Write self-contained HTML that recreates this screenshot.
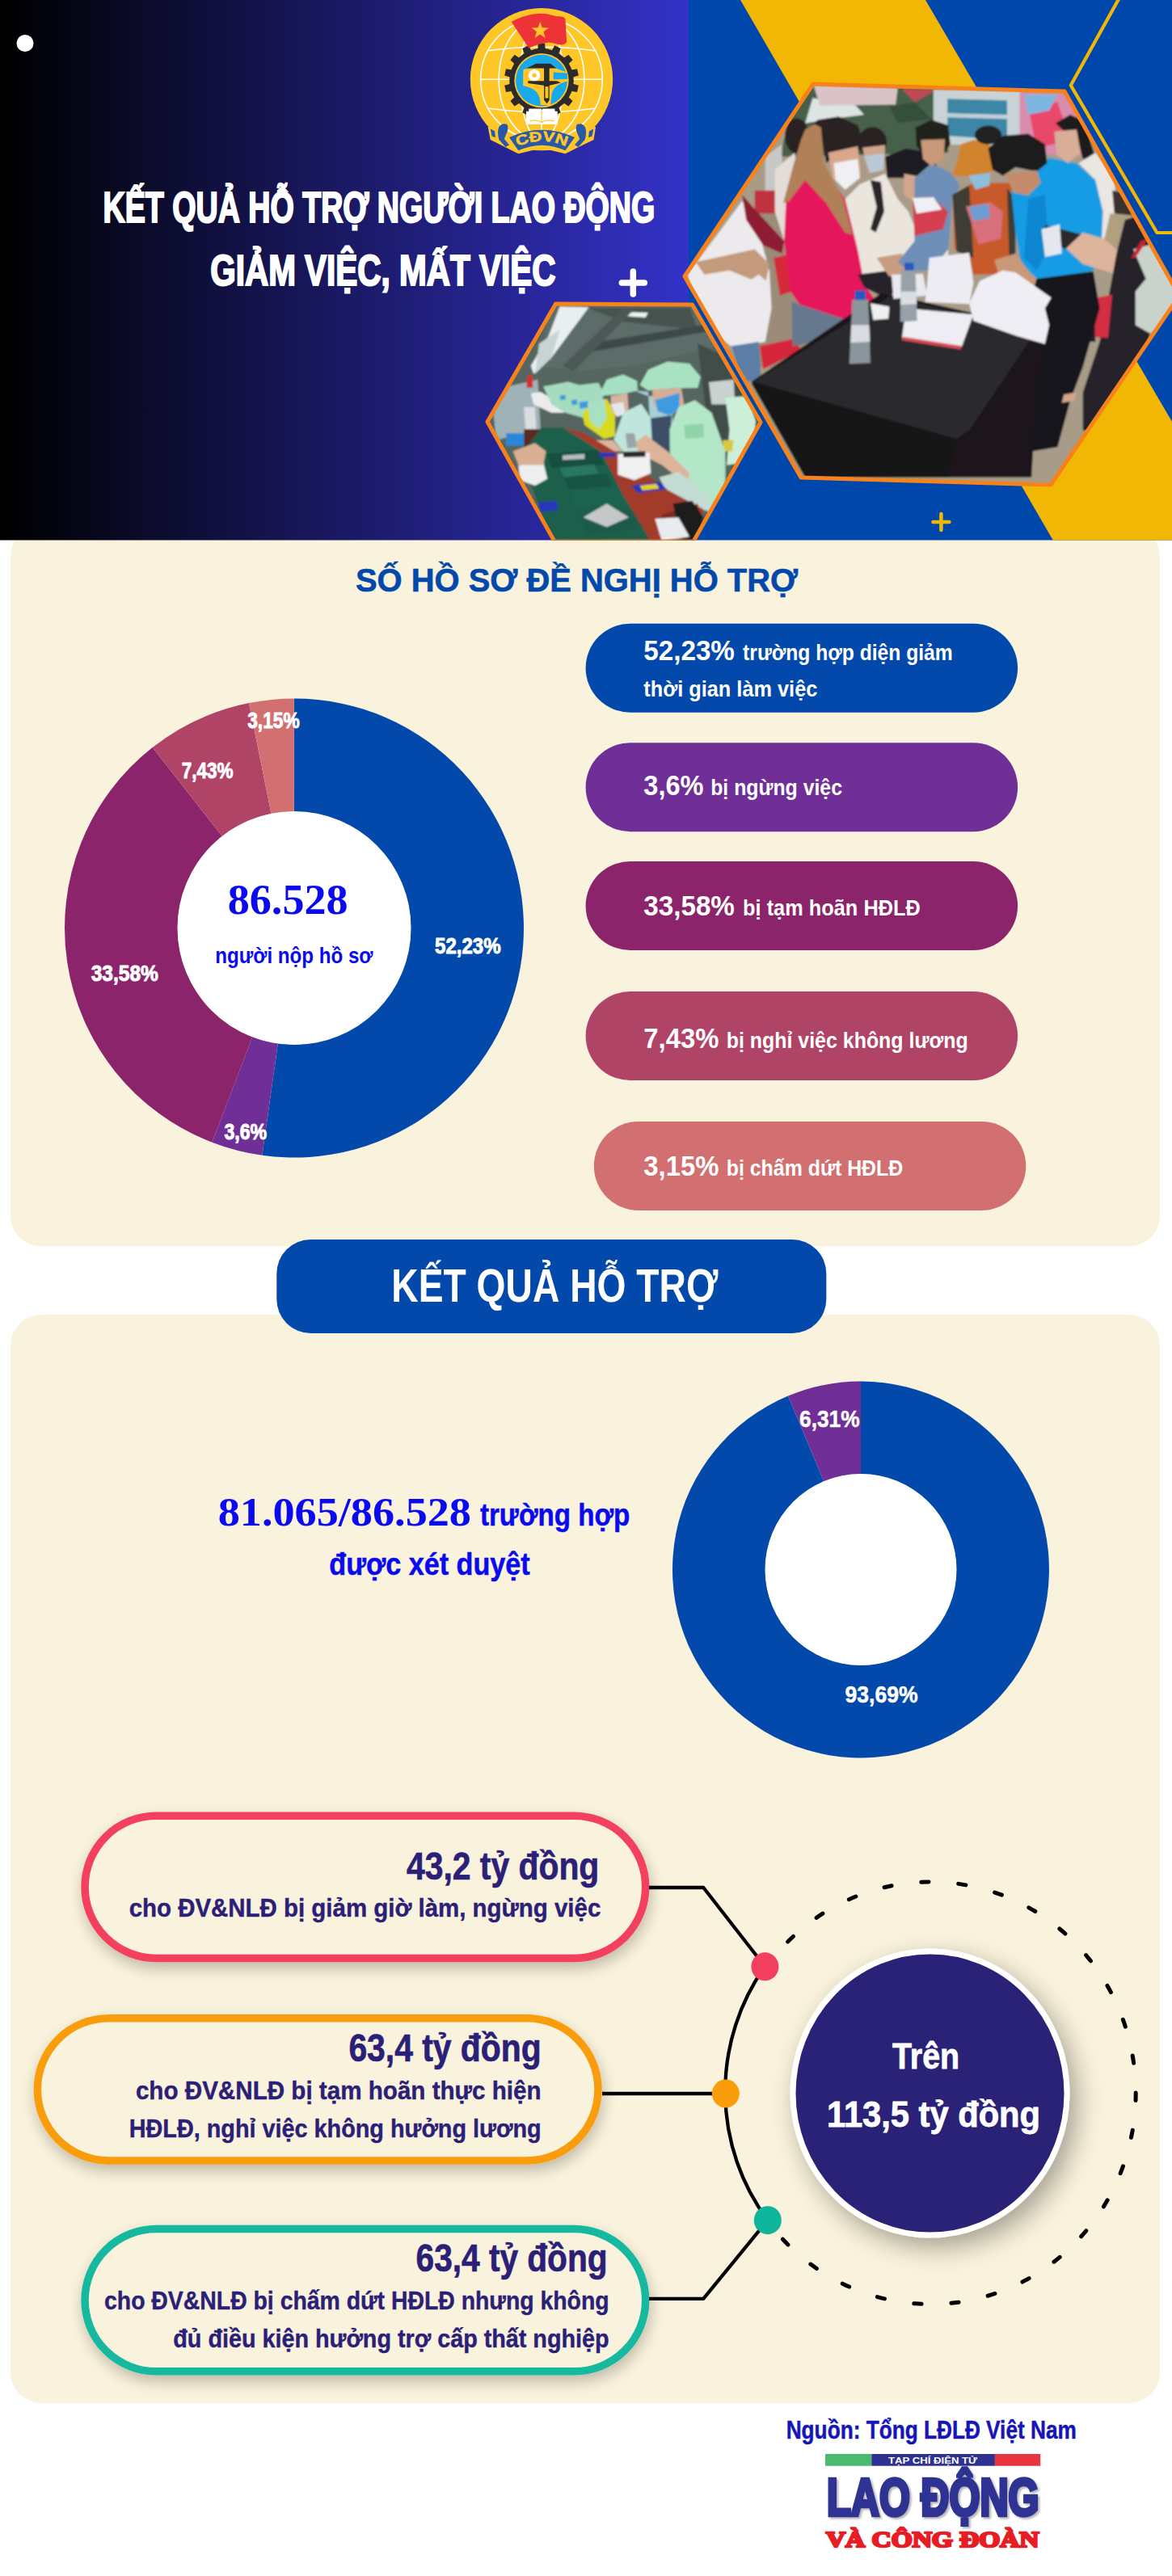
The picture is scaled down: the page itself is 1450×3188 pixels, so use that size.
<!DOCTYPE html>
<html lang="vi"><head><meta charset="utf-8"><title>Kết quả hỗ trợ người lao động giảm việc, mất việc</title><style>
html,body{margin:0;padding:0;background:#fff}
body{width:1450px;height:3188px;position:relative;overflow:hidden;font-family:"Liberation Sans",sans-serif}
svg{position:absolute;left:0;top:0;display:block}
text{font-family:"Liberation Sans",sans-serif;font-weight:bold}
.serif{font-family:"Liberation Serif",serif;font-weight:bold}
</style></head><body>
<svg width="1450" height="3188" viewBox="0 0 1450 3188">
<defs><filter id="sh" x="-10%" y="-20%" width="120%" height="150%"><feGaussianBlur in="SourceAlpha" stdDeviation="9"/><feOffset dx="2" dy="8" result="b"/><feComponentTransfer><feFuncA type="linear" slope="0.24"/></feComponentTransfer><feMerge><feMergeNode/><feMergeNode in="SourceGraphic"/></feMerge></filter><filter id="sh2" x="-20%" y="-20%" width="150%" height="150%"><feGaussianBlur in="SourceAlpha" stdDeviation="16"/><feOffset dx="9" dy="12" result="b"/><feComponentTransfer><feFuncA type="linear" slope="0.34"/></feComponentTransfer><feMerge><feMergeNode/><feMergeNode in="SourceGraphic"/></feMerge></filter><filter id="lb" x="-5%" y="-10%" width="112%" height="125%"><feDropShadow dx="2.3" dy="2.2" stdDeviation="1" flood-color="#9c9c9c" flood-opacity="0.75"/></filter></defs>
<rect x="13" y="651" width="1422" height="891.5" rx="38" fill="#F9F2DC"/>
<rect x="13" y="1627" width="1422" height="1347" rx="38" fill="#F9F2DC"/>
<text x="440.0" y="732.0" font-size="41" fill="#0349AB" textLength="547.0" lengthAdjust="spacingAndGlyphs" stroke="#0349AB" stroke-width="0.6">SỐ HỒ SƠ ĐỀ NGHỊ HỖ TRỢ</text>
<path d="M364.00,864.50 A284,284 0 1 1 324.34,1429.72 L343.89,1291.09 A144,144 0 1 0 364.00,1004.50 Z" fill="#0349AB"/>
<path d="M324.34,1429.72 A284,284 0 0 1 262.28,1413.66 L312.42,1282.95 A144,144 0 0 0 343.89,1291.09 Z" fill="#702F96"/>
<path d="M262.28,1413.66 A284,284 0 0 1 188.67,925.08 L275.10,1035.22 A144,144 0 0 0 312.42,1282.95 Z" fill="#8C246C"/>
<path d="M188.67,925.08 A284,284 0 0 1 307.98,870.08 L335.60,1007.33 A144,144 0 0 0 275.10,1035.22 Z" fill="#B04466"/>
<path d="M307.98,870.08 A284,284 0 0 1 363.82,864.50 L363.91,1004.50 A144,144 0 0 0 335.60,1007.33 Z" fill="#D26F70"/>
<circle cx="364" cy="1148.5" r="144.5" fill="#fff"/>
<text x="306.2" y="901.0" font-size="27" fill="#fff" textLength="64.4" lengthAdjust="spacingAndGlyphs" stroke="#fff" stroke-width="0.9">3,15%</text>
<text x="224.7" y="963.1" font-size="27" fill="#fff" textLength="63.8" lengthAdjust="spacingAndGlyphs" stroke="#fff" stroke-width="0.9">7,43%</text>
<text x="538.0" y="1180.0" font-size="27" fill="#fff" textLength="81.6" lengthAdjust="spacingAndGlyphs" stroke="#fff" stroke-width="0.9">52,23%</text>
<text x="112.7" y="1214.4" font-size="27" fill="#fff" textLength="83.2" lengthAdjust="spacingAndGlyphs" stroke="#fff" stroke-width="0.9">33,58%</text>
<text x="277.4" y="1410.1" font-size="27" fill="#fff" textLength="52.7" lengthAdjust="spacingAndGlyphs" stroke="#fff" stroke-width="0.9">3,6%</text>
<text x="281.8" y="1131.2" font-size="53" fill="#0A0AF0" textLength="148.7" lengthAdjust="spacingAndGlyphs" class="serif">86.528</text>
<text x="266.3" y="1192.2" font-size="28" fill="#0A0AF0" textLength="195.2" lengthAdjust="spacingAndGlyphs">người nộp hồ sơ</text>
<rect x="724.6" y="771.7" width="534.5" height="110" rx="55" fill="#0349AB"/>
<rect x="724.6" y="919.2" width="534.5" height="110" rx="55" fill="#702F96"/>
<rect x="724.6" y="1066" width="534.5" height="110" rx="55" fill="#8C246C"/>
<rect x="724.6" y="1227" width="534.5" height="110" rx="55" fill="#B04466"/>
<rect x="734.8" y="1388" width="534.5" height="110" rx="55" fill="#D26F70"/>
<text x="796.3" y="816.8" font-size="35" fill="#fff" textLength="112.6" lengthAdjust="spacingAndGlyphs">52,23%</text>
<text x="919.1" y="816.8" font-size="27" fill="#fff" textLength="259.6" lengthAdjust="spacingAndGlyphs">trường hợp diện giảm</text>
<text x="796.3" y="861.9" font-size="27" fill="#fff" textLength="215.0" lengthAdjust="spacingAndGlyphs">thời gian làm việc</text>
<text x="796.3" y="984.2" font-size="35" fill="#fff" textLength="74.2" lengthAdjust="spacingAndGlyphs">3,6%</text>
<text x="879.2" y="984.2" font-size="27" fill="#fff" textLength="162.8" lengthAdjust="spacingAndGlyphs">bị ngừng việc</text>
<text x="796.3" y="1133.2" font-size="35" fill="#fff" textLength="112.6" lengthAdjust="spacingAndGlyphs">33,58%</text>
<text x="919.1" y="1133.2" font-size="27" fill="#fff" textLength="219.7" lengthAdjust="spacingAndGlyphs">bị tạm hoãn HĐLĐ</text>
<text x="796.3" y="1296.7" font-size="35" fill="#fff" textLength="93.1" lengthAdjust="spacingAndGlyphs">7,43%</text>
<text x="898.7" y="1296.7" font-size="27" fill="#fff" textLength="299.0" lengthAdjust="spacingAndGlyphs">bị nghỉ việc không lương</text>
<text x="796.3" y="1455.0" font-size="35" fill="#fff" textLength="93.1" lengthAdjust="spacingAndGlyphs">3,15%</text>
<text x="898.7" y="1455.0" font-size="27" fill="#fff" textLength="218.6" lengthAdjust="spacingAndGlyphs">bị chấm dứt HĐLĐ</text>
<rect x="342.3" y="1534" width="680" height="116" rx="42" fill="#0349AB"/>
<text x="484.3" y="1610.6" font-size="57" fill="#fff" textLength="404.1" lengthAdjust="spacingAndGlyphs">KẾT QUẢ HỖ TRỢ</text>
<path d="M1065.00,1709.50 A233,233 0 1 1 975.02,1727.57 L1019.43,1833.65 A118,118 0 1 0 1065.00,1824.50 Z" fill="#0349AB"/>
<path d="M975.02,1727.57 A233,233 0 0 1 1065.00,1709.50 L1065.00,1824.50 A118,118 0 0 0 1019.43,1833.65 Z" fill="#702F96"/>
<circle cx="1065" cy="1942.5" r="118.5" fill="#fff"/>
<text x="989.0" y="1766.0" font-size="29" fill="#fff" textLength="74.6" lengthAdjust="spacingAndGlyphs" stroke="#fff" stroke-width="0.5">6,31%</text>
<text x="1045.5" y="2107.3" font-size="29" fill="#fff" textLength="90.0" lengthAdjust="spacingAndGlyphs" stroke="#fff" stroke-width="0.5">93,69%</text>
<text x="269.7" y="1887.5" font-size="51" fill="#0A0AF0" textLength="313.3" lengthAdjust="spacingAndGlyphs" class="serif">81.065/86.528</text>
<text x="593.9" y="1887.8" font-size="38" fill="#0A0AF0" textLength="185.5" lengthAdjust="spacingAndGlyphs" stroke="#0A0AF0" stroke-width="0.5">trường hợp</text>
<text x="407.3" y="1948.5" font-size="38" fill="#0A0AF0" textLength="248.4" lengthAdjust="spacingAndGlyphs" stroke="#0A0AF0" stroke-width="0.5">được xét duyệt</text>
<rect x="105.05" y="2247.25" width="693.6" height="176.2" rx="88" fill="#F9F2DC" stroke="#F43F5E" stroke-width="9.5" filter="url(#sh)"/>
<rect x="46.35" y="2497.75" width="693.6" height="176.2" rx="88" fill="#F9F2DC" stroke="#F99D0B" stroke-width="9.5" filter="url(#sh)"/>
<rect x="105.05" y="2758.55" width="693.6" height="176.2" rx="88" fill="#F9F2DC" stroke="#14B8A0" stroke-width="9.5" filter="url(#sh)"/>
<text x="503.0" y="2325.8" font-size="48" fill="#2B2077" textLength="238.3" lengthAdjust="spacingAndGlyphs" stroke="#2B2077" stroke-width="0.7">43,2 tỷ đồng</text>
<text x="159.7" y="2371.5" font-size="31.5" fill="#2B2077" textLength="583.6" lengthAdjust="spacingAndGlyphs" stroke="#2B2077" stroke-width="0.4">cho ĐV&amp;NLĐ bị giảm giờ làm, ngừng việc</text>
<text x="431.4" y="2551.0" font-size="48" fill="#2B2077" textLength="238.2" lengthAdjust="spacingAndGlyphs" stroke="#2B2077" stroke-width="0.7">63,4 tỷ đồng</text>
<text x="167.9" y="2597.5" font-size="31.5" fill="#2B2077" textLength="501.7" lengthAdjust="spacingAndGlyphs" stroke="#2B2077" stroke-width="0.4">cho ĐV&amp;NLĐ bị tạm hoãn thực hiện</text>
<text x="159.7" y="2644.6" font-size="31.5" fill="#2B2077" textLength="509.9" lengthAdjust="spacingAndGlyphs" stroke="#2B2077" stroke-width="0.4">HĐLĐ, nghỉ việc không hưởng lương</text>
<text x="514.6" y="2811.3" font-size="48" fill="#2B2077" textLength="236.9" lengthAdjust="spacingAndGlyphs" stroke="#2B2077" stroke-width="0.7">63,4 tỷ đồng</text>
<text x="129.0" y="2858.4" font-size="31.5" fill="#2B2077" textLength="624.6" lengthAdjust="spacingAndGlyphs" stroke="#2B2077" stroke-width="0.4">cho ĐV&amp;NLĐ bị chấm dứt HĐLĐ nhưng không</text>
<text x="214.3" y="2904.8" font-size="31.5" fill="#2B2077" textLength="539.3" lengthAdjust="spacingAndGlyphs" stroke="#2B2077" stroke-width="0.4">đủ điều kiện hưởng trợ cấp thất nghiệp</text>
<ellipse cx="1151.5" cy="2590.3" rx="253.7" ry="261.3" fill="none" stroke="#000" stroke-width="5" stroke-dasharray="9.3 36.9" stroke-linecap="round"/>
<path d="M940.4,2421.8 L946.4,2433.8 A253.7,261.3 0 0 0 949.8,2747.7 L943.8,2759.7" fill="none" stroke="#F9F2DC" stroke-width="12"/>
<path d="M946.4,2433.8 A253.7,261.3 0 0 0 949.8,2747.7" fill="none" stroke="#000" stroke-width="4.3"/>
<path d="M803,2336 H870.3 L946.4,2433.8" fill="none" stroke="#000" stroke-width="4.3" stroke-linejoin="round"/>
<path d="M745,2591 H898" fill="none" stroke="#000" stroke-width="4.3"/>
<path d="M803,2844.8 H870.3 L949.8,2747.7" fill="none" stroke="#000" stroke-width="4.3" stroke-linejoin="round"/>
<ellipse cx="946.4" cy="2433.8" rx="17" ry="17.5" fill="#F43F5E"/><ellipse cx="897.8" cy="2591" rx="17" ry="17.5" fill="#F99D0B"/><ellipse cx="949.8" cy="2747.7" rx="17" ry="17.5" fill="#0FB59B"/>
<ellipse cx="1150.5" cy="2590.5" rx="169.5" ry="175.5" fill="#2B2077" stroke="#fff" stroke-width="7" filter="url(#sh2)"/>
<text x="1104.0" y="2560.0" font-size="44" fill="#fff" textLength="83.0" lengthAdjust="spacingAndGlyphs" stroke="#fff" stroke-width="0.8">Trên</text>
<text x="1023.0" y="2631.6" font-size="44" fill="#fff" textLength="264.0" lengthAdjust="spacingAndGlyphs" stroke="#fff" stroke-width="0.8">113,5 tỷ đồng</text>
<text x="972.7" y="3018.0" font-size="31" fill="#1616B4" textLength="359.1" lengthAdjust="spacingAndGlyphs" stroke="#1616B4" stroke-width="0.5">Nguồn: Tổng LĐLĐ Việt Nam</text>
<rect x="1021" y="3037" width="57.3" height="14.7" fill="#4DB96F"/><rect x="1078.3" y="3037" width="152.6" height="14.7" fill="#2E3192"/><rect x="1230.9" y="3037" width="56.3" height="14.7" fill="#E8343E"/>
<text x="1099.0" y="3048.8" font-size="10" fill="#fff" textLength="110.0" lengthAdjust="spacingAndGlyphs">TẠP CHÍ ĐIỆN TỬ</text>
<text x="1023.0" y="3112.9" font-size="65.5" fill="#2E3192" textLength="262.5" lengthAdjust="spacingAndGlyphs" stroke="#2E3192" stroke-width="4.6" filter="url(#lb)">LAO ĐỘNG</text>
<text x="1022.0" y="3152.0" font-size="27.5" fill="#E81C24" textLength="263.5" lengthAdjust="spacingAndGlyphs" class="serif" stroke="#E81C24" stroke-width="2.6">VÀ CÔNG ĐOÀN</text>
<defs><linearGradient id="hg" x1="0" x2="1" y1="0" y2="0"><stop offset="0" stop-color="#000000"/><stop offset="1" stop-color="#3432C8"/></linearGradient><clipPath id="hc"><rect x="0" y="0" width="1450" height="668.5"/></clipPath></defs>
<g clip-path="url(#hc)">
<rect x="0" y="0" width="852" height="669" fill="url(#hg)"/>
<rect x="852" y="0" width="598" height="669" fill="#0047AB"/>
<polygon points="916,0 1145,0 1536,669 1303,669" fill="#F2B705"/>
<polyline points="1384.5,-2 1324.8,105.6 1431.4,288 1455,288" fill="none" stroke="#F2B705" stroke-width="4.2" stroke-linejoin="round"/>
<defs><clipPath id="bigc"><polygon points="12,483 318,28 914,46 1189,530 885,978 290,960"/></clipPath><filter id="pb" x="-5%" y="-5%" width="110%" height="110%"><feGaussianBlur stdDeviation="2.2"/></filter></defs>
<g transform="translate(840,90) scale(0.5205)"><g clip-path="url(#bigc)"><g filter="url(#pb)">
<rect x="0" y="0" width="1200" height="1000" fill="#A89C88"/>
<polygon points="180,330 300,330 300,700 180,700" fill="#9A8C78"/>
<polygon points="280,30 640,30 640,190 240,200" fill="#46604A"/>
<polygon points="318,60 420,78 440,100 360,110 300,120" fill="#DCE4E4"/>
<polygon points="500,80 560,70 600,110 520,120" fill="#36503C"/>
<polygon points="320,30 520,36 515,76 335,78" fill="#D9C3C8"/>
<polygon points="530,38 610,42 560,70" fill="#C04858"/>
<polygon points="605,40 815,44 815,175 605,170" fill="#C9D3D6"/>
<polygon points="638,62 780,66 780,160 638,150" fill="#3E86A6"/>
<polygon points="638,96 780,100 780,110 638,106" fill="#BFD0D6"/>
<polygon points="810,46 935,50 990,200 810,190" fill="#D98CAE"/>
<polygon points="830,80 900,70 930,160 850,180" fill="#E8486A"/>
<polygon points="820,52 900,52 880,90 830,100" fill="#7FB6E0"/>
<polygon points="205,200 245,170 245,330 205,330" fill="#C8C8C8"/>
<polygon points="180,280 245,280 245,335 180,335" fill="#C03040"/>
<polygon points="228,230 275,190 290,300 250,400 228,330" fill="#E4DCD8"/>
<ellipse cx="280" cy="150" rx="28" ry="42" fill="#2A2220"/>
<polygon points="20,480 95,380 150,305 185,360 215,470 220,560 205,640 130,655 60,600" fill="#ECEAEC"/>
<polygon points="40,450 180,420 215,455 205,505 120,470 60,480" fill="#C49A7C"/>
<polygon points="125,650 190,640 195,730 150,735" fill="#5C7EA6"/>
<polygon points="150,290 185,330 250,400 245,430 200,410 160,350" fill="#8E1E30"/>
<polygon points="225,440 262,432 268,520 240,530" fill="#D42A3A"/>
<polygon points="192,650 275,632 290,660 200,705" fill="#D6283A"/>
<polygon points="255,290 300,250 345,235 395,300 420,400 445,510 470,545 440,580 380,592 300,570 265,520 250,400" fill="#E6195C"/>
<polygon points="268,545 390,585 385,610 320,640 270,650" fill="#66788E"/>
<polygon points="300,140 330,112 380,104 425,125 442,175 420,190 380,190 350,215 340,160 320,130" fill="#2A2220"/>
<polygon points="300,135 322,122 338,130 345,215 390,300 412,385 395,380 350,310 300,255 262,305 248,310 272,220 290,160" fill="#B08058"/>
<polygon points="355,190 425,175 432,240 395,278 365,250" fill="#D9A88C"/>
<polygon points="368,215 425,205 430,250 395,278 372,255" fill="#F0F0F2"/>
<ellipse cx="460" cy="165" rx="34" ry="36" fill="#2C2422"/>
<polygon points="436,178 490,172 488,230 450,238" fill="#D0A690"/>
<polygon points="440,198 488,192 485,232 455,238" fill="#B9C9D6"/>
<polygon points="395,300 430,265 490,240 520,300 545,330 575,400 640,420 640,440 540,430 520,470 470,480 440,500 425,420" fill="#EAE6DE"/>
<polygon points="455,255 480,260 488,330 468,380 455,372 470,320" fill="#2A2828"/>
<polygon points="425,480 500,470 520,500 500,540 440,510" fill="#26242A"/>
<polygon points="490,200 540,180 600,190 620,240 600,290 560,250 520,250 495,250" fill="#1E1C20"/>
<polygon points="535,240 590,250 598,290 560,310 535,290" fill="#D3A58C"/>
<polygon points="470,440 530,430 545,470 500,485" fill="#C99C80"/>
<polygon points="560,250 600,215 650,240 668,270 650,300 640,420 600,470 545,470 520,450 560,400" fill="#6E8FB8"/>
<polygon points="562,130 600,112 640,125 645,170 625,200 585,200 565,175" fill="#20201E"/>
<polygon points="575,160 632,158 630,205 600,222 580,205" fill="#C89878"/>
<polygon points="555,300 600,295 640,330 628,372 560,388" fill="#D44050"/>
<polygon points="555,298 605,296 625,325 565,335" fill="#EEF0F4"/>
<polygon points="650,290 700,262 790,262 800,300 790,440 760,480 700,480 690,440 655,420" fill="#C85A2C"/>
<polygon points="650,290 690,268 700,440 660,425" fill="#3C3C36"/>
<polygon points="780,275 800,300 800,440 785,440" fill="#3C3C36"/>
<polygon points="670,170 700,160 735,165 750,205 755,232 700,248 648,245 660,215" fill="#D2832F"/>
<polygon points="688,245 740,238 738,268 705,278" fill="#8EC0DC"/>
<polygon points="682,318 740,308 770,330 765,395 712,408" fill="#D8707C"/>
<polygon points="690,318 735,312 740,345 700,352" fill="#6C9CD0"/>
<ellipse cx="735" cy="148" rx="32" ry="22" fill="#222022"/>
<polygon points="790,280 820,250 880,202 945,215 990,255 1008,330 1005,400 985,470 900,490 850,490 815,465 800,380" fill="#169CE4"/>
<polygon points="830,300 870,290 880,420 850,470 820,440" fill="#0F88D0"/>
<polygon points="735,180 770,150 830,145 870,170 875,215 850,235 800,225 770,245 745,230" fill="#1A1A1C"/>
<polygon points="775,240 850,232 860,262 830,292 795,285" fill="#C48C6C"/>
<polygon points="750,445 800,430 830,470 860,500 800,530 770,520" fill="#C99878"/>
<polygon points="895,120 930,100 965,115 980,170 990,200 960,205 950,170" fill="#1C1A1C"/>
<polygon points="892,140 945,135 955,190 925,215 898,195" fill="#D8AE98"/>
<polygon points="950,215 990,190 1035,250 1040,330 1025,392 1005,395 1008,330 990,255" fill="#EAE6E2"/>
<polygon points="1030,280 1080,290 1080,340 1035,335" fill="#3A3230"/>
<polygon points="1025,335 1090,340 1060,420 1010,400" fill="#B0A080"/>
<polygon points="870,362 985,392 995,412 920,420 868,395" fill="#2A2A2C"/>
<polygon points="862,372 905,360 910,430 870,438" fill="#E4E8EE"/>
<polygon points="920,418 960,380 1010,395 1100,470 1090,520 1040,480 960,455" fill="#DDB49C"/>
<polygon points="1060,350 1090,340 1130,420 1140,480 1120,620 1100,700 1020,860 960,850 960,760 1000,640 1020,540 1040,430" fill="#26222A"/>
<polygon points="1080,420 1150,400 1189,480 1189,560 1120,620 1085,600 1085,520 1110,490" fill="#C9D2CB"/>
<polygon points="1098,400 1115,395 1085,440 1075,440" fill="#C82030"/>
<polygon points="965,540 1030,528 1020,630 965,628" fill="#D42E44"/>
<polygon points="940,560 985,540 990,640 945,640" fill="#222026"/>
<polygon points="850,490 985,472 1000,560 960,700 930,780 900,890 840,900 845,700 830,560" fill="#17171D"/>
<polygon points="915,765 945,760 940,780 910,785" fill="#D3A58C"/>
<polygon points="172,735 480,525 560,540 870,610 850,760 838,962 300,962" fill="#1B191B"/>
<polygon points="178,735 500,532 850,612 690,850 660,870" fill="#2C2A2D"/>
<polygon points="172,738 660,872 640,962 300,962" fill="#151315"/>
<polygon points="595,440 690,428 700,500 690,550 585,545 590,500" fill="#ECECF2"/>
<polygon points="505,480 580,478 590,530 510,538" fill="#E8E8EE"/>
<polygon points="715,495 770,470 800,475 885,535 870,560 880,600 870,645 800,625 700,590 690,548" fill="#EEEEF4"/>
<polygon points="540,560 700,575 672,652 530,630" fill="#EDEDF3"/>
<polygon points="532,628 672,650 670,658 530,636" fill="#D84858"/>
<polygon points="455,548 500,556 498,585 462,588" fill="#EFEFEF"/>
<polygon points="412,540 450,540 455,690 405,692" fill="#8C949C"/>
<polygon points="410,600 452,600 454,640 408,642" fill="#D8DCE0"/>
<polygon points="418,518 444,518 444,540 418,540" fill="#2858C0"/>
<polygon points="528,470 562,470 566,590 526,592" fill="#98A0A8"/>
<polygon points="527,520 564,520 565,550 527,552" fill="#DADEE2"/>
<polygon points="536,452 558,452 558,470 536,470" fill="#2858C0"/>
<polygon points="150,505 190,480 218,505 190,555 155,550" fill="#ECE8EE"/>
</g></g></g>
<polygon points="847,342 1006,104 1317,113 1459,366 1300,600 991,591" fill="none" stroke="#F7821B" stroke-width="5" stroke-linejoin="round"/>
<defs><clipPath id="smc"><polygon points="68,532 315,105 810,108 1058,535 815,966 310,966"/></clipPath><filter id="pb2" x="-5%" y="-5%" width="110%" height="110%"><feGaussianBlur stdDeviation="3"/></filter></defs>
<g transform="translate(580,340) scale(0.3413)"><g clip-path="url(#smc)"><g filter="url(#pb2)">
<rect x="0" y="80" width="1100" height="900" fill="#55655F"/>
<polygon points="300,100 820,100 900,260 600,330 400,350 250,330" fill="#5C6C68"/>
<polygon points="430,120 800,120 830,200 560,170" fill="#46524F"/>
<polygon points="560,135 650,138 640,155 570,150" fill="#E8F4F0"/>
<polygon points="330,115 435,118 300,300 235,360 225,330 290,220" fill="#E9EEF0"/>
<polygon points="255,250 330,200 300,300 240,360" fill="#C9D3D6"/>
<polygon points="430,250 860,180 870,205 440,280" fill="#3E4A48"/>
<polygon points="340,330 560,120 600,125 380,350" fill="#4B5856"/>
<polygon points="830,250 1000,330 1058,535 960,700 880,640 850,420" fill="#3F4E4B"/>
<polygon points="870,390 960,380 965,470 880,470" fill="#C9D2CE"/>
<polygon points="930,445 1010,440 1040,530 1030,680 935,690 945,560" fill="#CDEFD9"/>
<polygon points="920,600 960,600 955,640 925,640" fill="#D8C840"/>
<polygon points="80,420 250,380 260,560 100,600" fill="#9FB2B8"/>
<polygon points="225,430 260,425 340,470 345,500 300,500 235,470" fill="#ECECEC"/>
<polygon points="200,480 240,480 245,560 205,560" fill="#D9DEE0"/>
<polygon points="210,365 232,365 232,410 210,410" fill="#D03030"/>
<polygon points="135,575 200,575 200,620 135,620" fill="#2C86D8"/>
<polygon points="200,560 272,560 272,630 200,630" fill="#5A2A24"/>
<polygon points="270,405 300,400 360,388 400,400 470,392 490,430 470,500 420,520 350,500 300,470" fill="#A5DCC0"/>
<polygon points="330,438 350,435 352,452 332,455" fill="#3A9CDC"/>
<polygon points="372,455 392,452 394,470 374,473" fill="#3A9CDC"/>
<polygon points="400,462 432,458 434,482 402,486" fill="#3A9CDC"/>
<polygon points="412,505 440,470 500,450 530,500 530,585 490,595 420,545" fill="#D9DA24"/>
<polygon points="430,465 490,448 500,520 470,560 440,530" fill="#A8E0C4"/>
<polygon points="470,440 500,380 560,362 610,385 612,420 560,432" fill="#A6E0C2"/>
<polygon points="515,440 575,430 580,500 540,515 515,490" fill="#D9B4A0"/>
<polygon points="515,470 560,462 568,505 535,515" fill="#E4E8EC"/>
<polygon points="525,600 560,500 625,468 660,520 668,640 640,690 560,640" fill="#BFE5DC"/>
<polygon points="430,600 520,600 560,640 470,640" fill="#DDB59C"/>
<polygon points="600,420 650,425 655,500 665,620 700,640 740,560 735,470 700,440 650,440" fill="#A9CFD6"/>
<polygon points="660,520 735,510 730,640 690,650 665,620" fill="#3C5068"/>
<polygon points="620,400 650,345 720,315 800,322 840,370 830,410 740,412 650,420" fill="#A9E2C3"/>
<polygon points="665,415 770,410 780,470 740,505 690,500 668,465" fill="#D6AE98"/>
<polygon points="675,455 765,428 762,490 725,510 685,495" fill="#3D9BE0"/>
<polygon points="728,560 760,480 820,455 880,500 930,640 930,800 870,860 800,800 730,700" fill="#B4E6C8"/>
<polygon points="600,610 640,580 720,640 800,720 790,760 700,690 620,650" fill="#DDB49A"/>
<polygon points="780,545 850,540 852,590 785,595" fill="#8ED4A8"/>
<polygon points="690,735 760,715 870,800 880,860 800,840 720,790" fill="#C4DCD4"/>
<polygon points="262,555 340,555 480,640 660,960 300,966 225,760 200,640" fill="#1C5E4C"/>
<polygon points="285,650 470,635 490,690 300,700" fill="#155040"/>
<polygon points="330,700 455,688 470,720 345,735" fill="#2A7860"/>
<polygon points="345,735 500,722 520,765 365,780" fill="#175443"/>
<polygon points="365,780 560,775 580,835 385,840" fill="#1F6450"/>
<polygon points="400,870 600,850 650,915 430,945" fill="#1B5A48"/>
<polygon points="345,555 420,575 560,660 720,780 850,850 830,966 660,966 560,800 480,640" fill="#A23A2A"/>
<polygon points="700,870 830,830 850,966 690,966" fill="#7A2C22"/>
<polygon points="540,650 655,645 660,720 600,745 540,725" fill="#F1F1F1"/>
<polygon points="560,642 640,640 640,660 560,662" fill="#2A2A2A"/>
<polygon points="180,690 270,680 285,740 240,765 185,745" fill="#EEEEEE"/>
<polygon points="160,640 240,610 280,640 270,690 180,690" fill="#D9B093"/>
<polygon points="415,880 500,830 580,880 500,915" fill="#C4C8C8"/>
<polygon points="340,655 420,650 420,668 340,672" fill="#B8BCBC"/>
<polygon points="590,765 690,750 718,778 612,792" fill="#2838B8"/>
<polygon points="620,765 680,758 690,775 630,782" fill="#E8D020"/>
<polygon points="252,825 318,820 325,855 258,860" fill="#2838B8"/>
<polygon points="470,645 530,645 535,660 475,662" fill="#2838B8"/>
<polygon points="740,830 810,820 850,880 830,966 770,966" fill="#1A1A1A"/>
<polygon points="675,885 760,880 800,950 700,966" fill="#E8ECEE"/>
<polygon points="568,575 600,575 610,625 575,630" fill="#9aa4a8"/>
</g></g></g>
<polygon points="603,522 687.5,376 856.5,377 941,522.6 858,670 686,670" fill="none" stroke="#F7821B" stroke-width="5" stroke-linejoin="round"/>
</g>
<g transform="translate(570,0) scale(0.1792)">
<path d="M188,878 L330,850 L790,850 L932,878 L918,965 L800,1022 L722,1062 L560,1022 L398,1062 L320,1022 L205,965 Z" fill="#FFC627"/>
<circle cx="558" cy="548" r="492" fill="#FFC627"/>
<g fill="none" stroke="#fff" stroke-width="9"><circle cx="558" cy="548" r="420"/><ellipse cx="558" cy="548" rx="150" ry="420"/><ellipse cx="558" cy="548" rx="295" ry="420"/><path d="M138,548 H978"/><path d="M188,350 Q558,300 928,350"/><path d="M188,748 Q558,800 928,748"/><path d="M558,128 V968"/></g>
<path d="M531.6,339.6 L534.9,299.0 L581.1,299.0 L584.4,339.6 L628.2,349.6 L648.7,314.5 L690.3,334.5 L675.6,372.5 L710.8,400.5 L744.5,377.7 L773.3,413.9 L743.6,441.7 L763.1,482.2 L803.4,476.3 L813.7,521.4 L774.8,533.5 L774.8,578.5 L813.7,590.6 L803.4,635.7 L763.1,629.8 L743.6,670.3 L773.3,698.1 L744.5,734.3 L710.8,711.5 L675.6,739.5 L690.3,777.5 L648.7,797.5 L628.2,762.4 L584.4,772.4 L581.1,813.0 L534.9,813.0 L531.6,772.4 L487.8,762.4 L467.3,797.5 L425.7,777.5 L440.4,739.5 L405.2,711.5 L371.5,734.3 L342.7,698.1 L372.4,670.3 L352.9,629.8 L312.6,635.7 L302.3,590.6 L341.2,578.5 L341.2,533.5 L302.3,521.4 L312.6,476.3 L352.9,482.2 L372.4,441.7 L342.7,413.9 L371.5,377.7 L405.2,400.5 L440.4,372.5 L425.7,334.5 L467.3,314.5 L487.8,349.6 Z" fill="#2C2A2B"/>
<circle cx="558" cy="556" r="222" fill="#2C2A2B"/>
<circle cx="558" cy="556" r="188" fill="#FFC627"/>
<circle cx="558" cy="556" r="178" fill="#18A8EC"/>
<path d="M350,150 C440,105 540,75 640,108 C675,120 700,105 722,130 L732,290 C700,335 650,288 600,294 C545,300 505,318 470,332 Z" fill="#EE3338"/>
<polygon points="548.0,150.0 562.7,191.8 607.0,192.8 571.8,219.7 584.4,262.2 548.0,237.0 511.6,262.2 524.2,219.7 489.0,192.8 533.3,191.8" fill="#FFC627"/>
<path d="M432,478 L600,452 L735,500 L742,560 C680,575 640,600 628,650 L620,725 L552,725 C550,650 520,610 430,592 Z" fill="#FFC627"/>
<path d="M640,500 L735,505 L738,545 L640,548 Z" fill="#18A8EC"/>
<path d="M455,472 L520,440 L620,440 L660,472 L612,472 L612,560 L665,560 L690,572 L612,590 L612,690 L595,715 L575,690 L575,590 L465,575 L465,560 L575,560 L575,472 Z" fill="#2C2A2B"/>
<circle cx="508" cy="520" r="40" fill="#fff"/><circle cx="508" cy="520" r="15" fill="#FFC627"/>
<rect x="583" y="598" width="22" height="80" fill="#FFC627"/>
<path d="M452,768 L470,768 L470,750 L556,750 L560,760 L564,750 L650,750 L650,768 L668,768 L668,858 L452,858 Z" fill="#fff"/>
<path d="M476,838 Q520,822 558,845 Q600,822 644,838" fill="none" stroke="#FFC627" stroke-width="7"/><path d="M558,760 V845" stroke="#FFC627" stroke-width="6"/>
<path d="M335,948 Q560,845 787,948 L722,1040 Q560,965 398,1040 Z" fill="#2858A8"/>
<path d="M262,880 Q285,845 320,860 Q335,885 315,925 L300,960 L335,1000 L310,1015 L265,965 Q250,920 262,880 Z" fill="#2858A8"/>
<path d="M860,880 Q837,845 802,860 Q787,885 807,925 L822,960 L787,1000 L812,1015 L857,965 Q872,920 860,880 Z" fill="#2858A8"/>
<path d="M205,890 L235,905 L240,950 L215,940 Z" fill="#2858A8"/><path d="M917,890 L887,905 L882,950 L907,940 Z" fill="#2858A8"/>
<path id="rib" d="M372,1022 Q560,928 748,1022" fill="none"/>
<text font-size="96" fill="#FFC627" stroke="#FFC627" stroke-width="3" text-anchor="middle"><textPath href="#rib" startOffset="50%" textLength="345" lengthAdjust="spacingAndGlyphs">CĐVN</textPath></text>
</g>
<circle cx="31" cy="53.5" r="10.5" fill="#fff"/>
<path d="M783.3,336 V364 M769.3,350 H797.3" stroke="#fff" stroke-width="7.5" stroke-linecap="round"/>
<path d="M1164.4,636 V656 M1154.4,646 H1174.4" stroke="#F2B705" stroke-width="4.5" stroke-linecap="round"/>
<text x="127.5" y="274.8" font-size="54" fill="#fff" textLength="682.8" lengthAdjust="spacingAndGlyphs" stroke="#fff" stroke-width="2.2" stroke-linejoin="miter">KẾT QUẢ HỖ TRỢ NGƯỜI LAO ĐỘNG</text>
<text x="260.2" y="353.3" font-size="54" fill="#fff" textLength="427.3" lengthAdjust="spacingAndGlyphs" stroke="#fff" stroke-width="2.2" stroke-linejoin="miter">GIẢM VIỆC, MẤT VIỆC</text>
</svg>
</body></html>
